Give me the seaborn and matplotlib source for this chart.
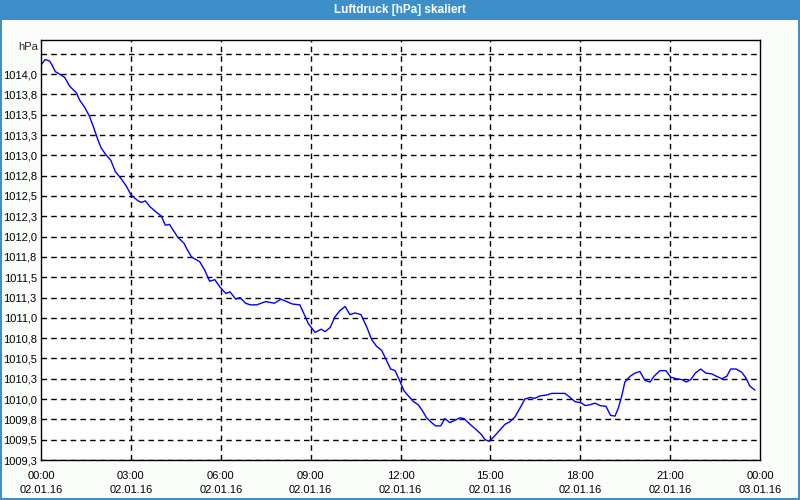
import numpy as np
import pandas as pd
import matplotlib
matplotlib.use("Agg")
import matplotlib.pyplot as plt
import seaborn as sns
from matplotlib.patches import Rectangle

# ---- data (hours after 02.01.16 00:00, pressure in hPa) ----
hours = [0.00, 0.14, 0.29, 0.37, 0.48, 0.62, 0.79, 0.96, 1.18, 1.29, 1.46, 1.62, 1.77, 1.90,
         2.01, 2.16, 2.33, 2.48, 2.66, 2.85, 3.01, 3.24, 3.35, 3.48, 3.63, 3.85, 4.02, 4.15,
         4.29, 4.41, 4.57, 4.77, 4.88, 5.02, 5.30, 5.46, 5.63, 5.80, 5.97, 6.17, 6.31, 6.50,
         6.64, 6.83, 6.98, 7.20, 7.50, 7.79, 8.01, 8.20, 8.39, 8.64, 8.79, 8.92, 9.15, 9.35,
         9.48, 9.65, 9.81, 9.98, 10.15, 10.31, 10.48, 10.68, 10.87, 11.04, 11.20, 11.37, 11.50,
         11.67, 11.82, 11.98, 12.12, 12.26, 12.43, 12.59, 12.71, 12.87, 13.04, 13.17, 13.34,
         13.48, 13.65, 13.82, 13.99, 14.12, 14.32, 14.54, 14.71, 14.82, 14.96, 15.10, 15.32,
         15.49, 15.65, 15.82, 15.99, 16.15, 16.32, 16.49, 16.66, 16.88, 17.05, 17.27, 17.49,
         17.66, 17.82, 18.05, 18.16, 18.32, 18.49, 18.66, 18.86, 19.01, 19.16, 19.27, 19.38,
         19.49, 19.66, 19.83, 19.99, 20.16, 20.33, 20.46, 20.66, 20.86, 21.02, 21.22, 21.39,
         21.54, 21.69, 21.84, 22.02, 22.19, 22.39, 22.55, 22.72, 22.89, 23.02, 23.20, 23.39,
         23.53, 23.66, 23.83]
pressure = [1014.11, 1014.18, 1014.16, 1014.11, 1014.03, 1014.00, 1013.96, 1013.85, 1013.77,
            1013.68, 1013.59, 1013.48, 1013.33, 1013.19, 1013.09, 1013.01, 1012.94, 1012.80,
            1012.72, 1012.62, 1012.51, 1012.44, 1012.42, 1012.44, 1012.37, 1012.30, 1012.25,
            1012.14, 1012.15, 1012.08, 1011.99, 1011.92, 1011.84, 1011.75, 1011.69, 1011.59,
            1011.45, 1011.47, 1011.38, 1011.30, 1011.32, 1011.23, 1011.25, 1011.18, 1011.16,
            1011.16, 1011.20, 1011.18, 1011.23, 1011.20, 1011.17, 1011.16, 1011.04, 1010.93,
            1010.82, 1010.86, 1010.83, 1010.88, 1011.01, 1011.09, 1011.14, 1011.04, 1011.06,
            1011.04, 1010.89, 1010.73, 1010.65, 1010.60, 1010.50, 1010.37, 1010.35, 1010.22,
            1010.10, 1010.04, 1009.97, 1009.93, 1009.87, 1009.77, 1009.71, 1009.67, 1009.67,
            1009.76, 1009.71, 1009.74, 1009.77, 1009.76, 1009.69, 1009.62, 1009.56, 1009.50,
            1009.48, 1009.53, 1009.62, 1009.69, 1009.72, 1009.78, 1009.89, 1010.00, 1010.02,
            1010.01, 1010.04, 1010.05, 1010.07, 1010.07, 1010.07, 1010.02, 1009.97, 1009.95,
            1009.92, 1009.93, 1009.95, 1009.92, 1009.91, 1009.80, 1009.79, 1009.89, 1010.03,
            1010.21, 1010.28, 1010.32, 1010.34, 1010.23, 1010.21, 1010.28, 1010.35, 1010.35,
            1010.27, 1010.25, 1010.24, 1010.21, 1010.24, 1010.32, 1010.37, 1010.32, 1010.31,
            1010.28, 1010.25, 1010.28, 1010.37, 1010.37, 1010.33, 1010.26, 1010.16, 1010.11]

ytick_values = [1009.25, 1009.5, 1009.75, 1010.0, 1010.25, 1010.5, 1010.75, 1011.0, 1011.25,
                1011.5, 1011.75, 1012.0, 1012.25, 1012.5, 1012.75, 1013.0, 1013.25, 1013.5,
                1013.75, 1014.0, 1014.25]
ytick_labels = ["1009,3", "1009,5", "1009,8", "1010,0", "1010,3", "1010,5", "1010,8", "1011,0",
                "1011,3", "1011,5", "1011,8", "1012,0", "1012,3", "1012,5", "1012,8", "1013,0",
                "1013,3", "1013,5", "1013,8", "1014,0", ""]
xtick_hours = [0, 3, 6, 9, 12, 15, 18, 21, 24]
xtick_labels = ["00:00\n02.01.16", "03:00\n02.01.16", "06:00\n02.01.16", "09:00\n02.01.16",
                "12:00\n02.01.16", "15:00\n02.01.16", "18:00\n02.01.16", "21:00\n02.01.16",
                "00:00\n03.01.16"]
title = "Luftdruck [hPa] skaliert"
unit = "hPa"

# ---- build frame ----
start = pd.Timestamp("2016-01-02 00:00")
df = pd.DataFrame({"time": start + pd.to_timedelta(hours, unit="h"), "p": pressure})

sns.set_style("white")
plt.rcParams["font.family"] = ["Liberation Sans", "DejaVu Sans"]
plt.rcParams["font.size"] = 8

fig = plt.figure(figsize=(8, 5), dpi=100)
fig.patch.set_facecolor("#fbfdfb")

blue = "#3c8fc8"
# window frame: title bar and borders
fig.add_artist(Rectangle((0, 1 - 20 / 500), 1, 20 / 500, transform=fig.transFigure,
                         facecolor=blue, edgecolor="none", zorder=0))
fig.add_artist(Rectangle((0, 0), 2 / 800, 1, transform=fig.transFigure,
                         facecolor=blue, edgecolor="none", zorder=0))
fig.add_artist(Rectangle((1 - 2 / 800, 0), 2 / 800, 1, transform=fig.transFigure,
                         facecolor=blue, edgecolor="none", zorder=0))
fig.add_artist(Rectangle((0, 0), 1, 2 / 500, transform=fig.transFigure,
                         facecolor=blue, edgecolor="none", zorder=0))
fig.text(0.5, 1 - 10 / 500, title, color="white", fontweight="bold", fontsize=8.5,
         ha="center", va="center")

ax = fig.add_axes([41 / 800, 40 / 500, 719 / 800, 420 / 500])
ax.set_facecolor("white")

sns.lineplot(data=df, x="time", y="p", ax=ax, color="#0000ff", linewidth=1.0)

x0 = start
x1 = start + pd.Timedelta(hours=24)
ax.set_xlim(x0, x1)
ax.set_ylim(1009.25, 1014.42)

# grid lines
dash = (0, (4, 3))
for yv in ytick_values:
    ax.axhline(yv, color="black", linewidth=1, linestyle=dash, zorder=1)
for h in xtick_hours[1:-1]:
    ax.axvline(start + pd.Timedelta(hours=h), color="black", linewidth=1, linestyle=dash, zorder=1)

ax.set_yticks(ytick_values)
ax.set_yticklabels(ytick_labels)
ax.tick_params(axis="y", length=0, pad=3, labelsize=8, colors="black")

ax.set_xticks([start + pd.Timedelta(hours=h) for h in xtick_hours])
ax.set_xticklabels(xtick_labels, linespacing=1.5)
ax.set_xticks([start + pd.Timedelta(hours=h) for h in range(25)], minor=True)
ax.tick_params(axis="x", which="both", length=4, width=1, direction="out", pad=4,
               labelsize=8, colors="black")

for s in ax.spines.values():
    s.set_visible(True)
    s.set_color("black")
    s.set_linewidth(1)

ax.set_xlabel("")
ax.set_ylabel("")
fig.text(38 / 800, 1 - 47 / 500, unit, ha="right", va="center", fontsize=8)

fig.savefig("out.png", dpi=100, facecolor=fig.get_facecolor())
